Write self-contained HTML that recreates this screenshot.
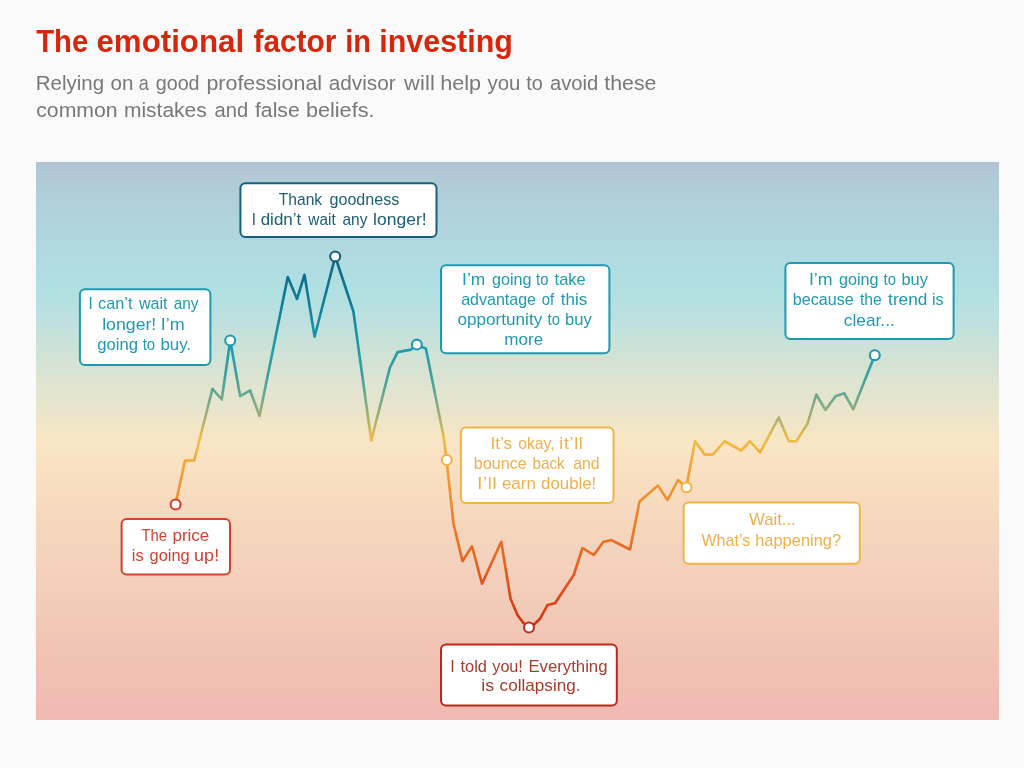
<!DOCTYPE html>
<html lang="en"><head><meta charset="utf-8"><title>The emotional factor in investing</title>
<style>
html,body{margin:0;padding:0;width:1024px;height:768px;overflow:hidden;background:#fafafb;}
body{position:relative;font-family:"Liberation Sans",sans-serif;}
#chart{position:absolute;left:36.30px;top:162.20px;width:962.50px;height:557.40px;background:linear-gradient(to bottom,#b2c3d3 0%,#b0ced8 5%,#b0d2da 9.5%,#b0dbe1 17.6%,#b0e0e2 23%,#bee0df 28.3%,#cde2d6 33.7%,#dde4d2 39.1%,#e9e5cc 44.5%,#f8e6c4 49.9%,#f9e0c2 55.2%,#f5d6bc 66%,#f4d2bd 71.4%,#f2c9b7 82.1%,#f2c3b5 87.5%,#f1bdb3 95.6%,#f1b8b2 100%);}
svg{position:absolute;left:0;top:0;will-change:transform;}
text{font-family:"Liberation Sans",sans-serif;white-space:pre;}
</style></head><body>
<div id="chart"></div>
<svg width="1024" height="768" viewBox="0 0 1024 768">
<defs><linearGradient id="lg" gradientUnits="userSpaceOnUse" x1="0" y1="256" x2="0" y2="628">
<stop offset="0.0000" stop-color="#0e6585"/><stop offset="0.1183" stop-color="#0f7c98"/><stop offset="0.2392" stop-color="#1a9cb0"/><stop offset="0.3199" stop-color="#3aa0a0"/><stop offset="0.3737" stop-color="#68a890"/><stop offset="0.4355" stop-color="#a4b070"/><stop offset="0.4839" stop-color="#e8bc48"/><stop offset="0.5081" stop-color="#f2b840"/><stop offset="0.5538" stop-color="#f0a63a"/><stop offset="0.6559" stop-color="#ee8c30"/><stop offset="0.8172" stop-color="#e86420"/><stop offset="0.9247" stop-color="#dc4415"/><stop offset="1.0000" stop-color="#cf2f10"/>
</linearGradient></defs>
<!-- heading -->
<g>
<text transform="translate(36.25 51.75) scale(0.9431 1)" font-size="31" font-weight="bold" fill="#d8260d">The</text>
<text transform="translate(96.49 51.75) scale(1.0084 1)" font-size="31" font-weight="bold" fill="#d8260d">emotional</text>
<text transform="translate(253.50 51.75) scale(0.9615 1)" font-size="31" font-weight="bold" fill="#d8260d">factor</text>
<text transform="translate(345.13 51.75) scale(0.9345 1)" font-size="31" font-weight="bold" fill="#d8260d">in</text>
<text transform="translate(379.29 51.75) scale(0.9819 1)" font-size="31" font-weight="bold" fill="#d8260d">investing</text>
<text transform="translate(35.70 90.20) scale(1.0524 1)" font-size="19.5" fill="#787878">Relying</text>
<text transform="translate(110.50 90.20) scale(1.0554 1)" font-size="19.5" fill="#787878">on</text>
<text transform="translate(138.63 90.20) scale(0.9300 1)" font-size="19.5" fill="#787878">a</text>
<text transform="translate(155.75 90.20) scale(1.0109 1)" font-size="19.5" fill="#787878">good</text>
<text transform="translate(206.40 90.20) scale(1.1005 1)" font-size="19.5" fill="#787878">professional</text>
<text transform="translate(328.75 90.20) scale(1.0652 1)" font-size="19.5" fill="#787878">advisor</text>
<text transform="translate(404.12 90.20) scale(1.1200 1)" font-size="19.5" letter-spacing="0.126" fill="#787878">will</text>
<text transform="translate(440.14 90.20) scale(1.1104 1)" font-size="19.5" fill="#787878">help</text>
<text transform="translate(487.50 90.20) scale(1.0459 1)" font-size="19.5" fill="#787878">you</text>
<text transform="translate(526.25 90.20) scale(1.0202 1)" font-size="19.5" fill="#787878">to</text>
<text transform="translate(550.00 90.20) scale(1.0377 1)" font-size="19.5" fill="#787878">avoid</text>
<text transform="translate(604.25 90.20) scale(1.0937 1)" font-size="19.5" fill="#787878">these</text>
<text transform="translate(36.25 116.80) scale(1.0889 1)" font-size="19.5" fill="#787878">common</text>
<text transform="translate(123.92 116.80) scale(1.0763 1)" font-size="19.5" fill="#787878">mistakes</text>
<text transform="translate(214.50 116.80) scale(1.0335 1)" font-size="19.5" fill="#787878">and</text>
<text transform="translate(255.00 116.80) scale(1.0844 1)" font-size="19.5" fill="#787878">false</text>
<text transform="translate(305.89 116.80) scale(1.1117 1)" font-size="19.5" fill="#787878">beliefs.</text>
</g>
<!-- callout boxes -->
<g>
<rect x="121.6" y="519" width="108.4" height="55.5" rx="5" ry="5" fill="#fff" stroke="#d5402c" stroke-width="2"/>
<text transform="translate(141.38 541.00) scale(0.9300 1)" font-size="16" fill="#cf4030">The</text>
<text transform="translate(172.44 541.00) scale(1.0627 1)" font-size="16" fill="#cf4030">price</text>
<text transform="translate(131.87 561.40) scale(1.0280 1)" font-size="16" fill="#cf4030">is</text>
<text transform="translate(149.50 561.40) scale(1.0261 1)" font-size="16" fill="#cf4030">going</text>
<text transform="translate(193.88 561.40) scale(1.1200 1)" font-size="16" letter-spacing="0.191" fill="#cf4030">up!</text>
</g>
<g>
<rect x="79.9" y="289.2" width="130.5" height="75.7" rx="5" ry="5" fill="#fff" stroke="#1e9ab0" stroke-width="2"/>
<text transform="translate(88.45 309.40) scale(0.9500 1)" font-size="16" fill="#1e9ab0">I</text>
<text transform="translate(98.10 309.40) scale(1.0160 1)" font-size="16" fill="#1e9ab0">can’t</text>
<text transform="translate(138.91 309.40) scale(1.0064 1)" font-size="16" fill="#1e9ab0">wait</text>
<text transform="translate(173.70 309.40) scale(0.9614 1)" font-size="16" fill="#1e9ab0">any</text>
<text transform="translate(102.19 329.80) scale(1.1070 1)" font-size="16" fill="#1e9ab0">longer!</text>
<text transform="translate(160.68 329.80) scale(1.1200 1)" font-size="16" letter-spacing="0.045" fill="#1e9ab0">I’m</text>
<text transform="translate(97.30 350.10) scale(1.0431 1)" font-size="16" fill="#1e9ab0">going</text>
<text transform="translate(142.65 350.10) scale(0.9300 1)" font-size="16" fill="#1e9ab0">to</text>
<text transform="translate(160.44 350.10) scale(1.0560 1)" font-size="16" fill="#1e9ab0">buy.</text>
</g>
<g>
<rect x="240.4" y="183.3" width="196.1" height="53.8" rx="5" ry="5" fill="#fff" stroke="#14607a" stroke-width="2"/>
<text transform="translate(278.80 205.00) scale(0.9743 1)" font-size="16" fill="#1a5d75">Thank</text>
<text transform="translate(329.50 205.00) scale(1.0073 1)" font-size="16" fill="#1a5d75">goodness</text>
<text transform="translate(251.65 225.30) scale(0.9500 1)" font-size="16" fill="#1a5d75">I</text>
<text transform="translate(260.70 225.30) scale(1.0592 1)" font-size="16" fill="#1a5d75">didn’t</text>
<text transform="translate(308.36 225.30) scale(0.9598 1)" font-size="16" fill="#1a5d75">wait</text>
<text transform="translate(342.50 225.30) scale(0.9691 1)" font-size="16" fill="#1a5d75">any</text>
<text transform="translate(373.10 225.30) scale(1.0973 1)" font-size="16" fill="#1a5d75">longer!</text>
</g>
<g>
<rect x="441" y="265.2" width="168.4" height="88.1" rx="5" ry="5" fill="#fff" stroke="#1e9ab0" stroke-width="2"/>
<text transform="translate(462.12 284.90) scale(1.0850 1)" font-size="16" fill="#1e9ab0">I’m</text>
<text transform="translate(491.90 284.90) scale(1.0118 1)" font-size="16" fill="#1e9ab0">going</text>
<text transform="translate(536.10 284.90) scale(0.9300 1)" font-size="16" fill="#1e9ab0">to</text>
<text transform="translate(554.60 284.90) scale(1.0315 1)" font-size="16" fill="#1e9ab0">take</text>
<text transform="translate(461.20 305.10) scale(1.0022 1)" font-size="16" fill="#1e9ab0">advantage</text>
<text transform="translate(541.74 305.10) scale(0.9300 1)" font-size="16" fill="#1e9ab0">of</text>
<text transform="translate(560.80 305.10) scale(1.0603 1)" font-size="16" fill="#1e9ab0">this</text>
<text transform="translate(457.50 325.30) scale(1.0712 1)" font-size="16" fill="#1e9ab0">opportunity</text>
<text transform="translate(547.50 325.30) scale(0.9300 1)" font-size="16" fill="#1e9ab0">to</text>
<text transform="translate(565.07 325.30) scale(1.0324 1)" font-size="16" fill="#1e9ab0">buy</text>
<text transform="translate(504.33 345.30) scale(1.0660 1)" font-size="16" fill="#1e9ab0">more</text>
</g>
<g>
<rect x="460.9" y="427.5" width="152.6" height="75.5" rx="5" ry="5" fill="#fff" stroke="#f0b445" stroke-width="2"/>
<text transform="translate(490.53 449.20) scale(1.0701 1)" font-size="16" fill="#eeb04a">It’s</text>
<text transform="translate(518.20 449.20) scale(0.9861 1)" font-size="16" fill="#eeb04a">okay,</text>
<text transform="translate(559.28 449.20) scale(1.1200 1)" font-size="16" letter-spacing="0.589" fill="#eeb04a">it’ll</text>
<text transform="translate(473.79 469.30) scale(1.0118 1)" font-size="16" fill="#eeb04a">bounce</text>
<text transform="translate(532.55 469.30) scale(0.9528 1)" font-size="16" fill="#eeb04a">back</text>
<text transform="translate(573.20 469.30) scale(0.9885 1)" font-size="16" fill="#eeb04a">and</text>
<text transform="translate(477.28 489.40) scale(1.1200 1)" font-size="16" letter-spacing="0.690" fill="#eeb04a">I’ll</text>
<text transform="translate(501.90 489.40) scale(1.0602 1)" font-size="16" fill="#eeb04a">earn</text>
<text transform="translate(541.10 489.40) scale(1.0520 1)" font-size="16" fill="#eeb04a">double!</text>
</g>
<g>
<rect x="441" y="644.6" width="175.8" height="60.8" rx="5" ry="5" fill="#fff" stroke="#b82a18" stroke-width="2"/>
<text transform="translate(450.30 671.50) scale(1.0000 1)" font-size="16" fill="#a83a2c">I</text>
<text transform="translate(460.50 671.50) scale(1.0242 1)" font-size="16" fill="#a83a2c">told</text>
<text transform="translate(492.30 671.50) scale(1.0105 1)" font-size="16" fill="#a83a2c">you!</text>
<text transform="translate(528.45 671.50) scale(1.0462 1)" font-size="16" fill="#a83a2c">Everything</text>
<text transform="translate(481.29 691.20) scale(1.1085 1)" font-size="16" fill="#a83a2c">is</text>
<text transform="translate(499.60 691.20) scale(1.0707 1)" font-size="16" fill="#a83a2c">collapsing.</text>
</g>
<g>
<rect x="683.6" y="502.4" width="176.2" height="61.3" rx="5" ry="5" fill="#fff" stroke="#f0b445" stroke-width="2"/>
<text transform="translate(749.00 525.00) scale(1.0440 1)" font-size="16" fill="#eeb04a">Wait...</text>
<text transform="translate(701.50 545.50) scale(1.0019 1)" font-size="16" fill="#eeb04a">What’s</text>
<text transform="translate(755.17 545.50) scale(1.0285 1)" font-size="16" fill="#eeb04a">happening?</text>
</g>
<g>
<rect x="785.4" y="263" width="168.2" height="76" rx="5" ry="5" fill="#fff" stroke="#1e9ab0" stroke-width="2"/>
<text transform="translate(808.89 284.90) scale(1.1100 1)" font-size="16" fill="#1e9ab0">I’m</text>
<text transform="translate(838.90 284.90) scale(1.0118 1)" font-size="16" fill="#1e9ab0">going</text>
<text transform="translate(883.60 284.90) scale(0.9300 1)" font-size="16" fill="#1e9ab0">to</text>
<text transform="translate(901.48 284.90) scale(1.0203 1)" font-size="16" fill="#1e9ab0">buy</text>
<text transform="translate(792.79 305.30) scale(1.0068 1)" font-size="16" fill="#1e9ab0">because</text>
<text transform="translate(860.00 305.30) scale(0.9846 1)" font-size="16" fill="#1e9ab0">the</text>
<text transform="translate(888.10 305.30) scale(1.0767 1)" font-size="16" fill="#1e9ab0">trend</text>
<text transform="translate(931.90 305.30) scale(1.0043 1)" font-size="16" fill="#1e9ab0">is</text>
<text transform="translate(843.80 325.50) scale(1.0813 1)" font-size="16" fill="#1e9ab0">clear...</text>
</g>
<line x1="882.5" y1="351.3" x2="945" y2="351.3" stroke="#f3e4dc" stroke-opacity="0.45" stroke-width="0.7"/>
<!-- price line -->
<polyline fill="none" stroke="url(#lg)" stroke-width="2.6" stroke-linejoin="round" stroke-linecap="round" points="175.5,504.5 185,460.5 194.25,460.5 212.5,388.75 221.75,399.5 230.25,340.5 240.1,396.1 250.1,390.4 259.5,416 287.75,277 297,299 304.5,274.75 314.6,336.8 335.25,256.5 353.4,311.5 371.25,440.5 389.9,367.6 397.6,352.1 411.1,349.6 416.9,344.8 425.9,348.6 443.75,437.5 446.5,460 453.5,523.75 462.5,561.25 472,546.25 482,583.75 501.25,541.75 510.5,598.75 517.5,615 523,622.5 528.75,627.5 534,624.5 540,618.75 547.5,605 555,603.25 573.75,575 582.5,548 593.75,555 603.25,542 611.25,540 630,549.5 639.5,501.6 658,485.5 667.5,500 678,480 686.25,487.5 695,441.25 704.5,454.5 713,454.5 724.5,441.25 741.25,450.5 750,441.25 760,452.5 778.75,417.5 788.75,441.25 796.25,441.25 807.5,423.75 816.25,394.5 825.5,410 835.5,396.25 844.25,393.25 853.25,409.25 874.8,355.2"/>
<circle cx="175.6" cy="504.5" r="4.95" fill="#fff" stroke="#d23c28" stroke-width="2.1"/>
<circle cx="230.2" cy="340.4" r="4.95" fill="#fff" stroke="#1e9ab0" stroke-width="2.1"/>
<circle cx="335.2" cy="256.4" r="4.95" fill="#fff" stroke="#14607a" stroke-width="2.1"/>
<circle cx="416.85" cy="344.6" r="4.95" fill="#fff" stroke="#1e9ab0" stroke-width="2.1"/>
<circle cx="446.8" cy="460" r="4.95" fill="#fff" stroke="#f0b445" stroke-width="2.1"/>
<circle cx="529" cy="627.5" r="4.95" fill="#fff" stroke="#b83020" stroke-width="2.1"/>
<circle cx="686.5" cy="487.3" r="4.95" fill="#fff" stroke="#f0b445" stroke-width="2.1"/>
<circle cx="874.8" cy="355.2" r="4.95" fill="#fff" stroke="#1e9ab0" stroke-width="2.1"/>
</svg>
</body></html>
